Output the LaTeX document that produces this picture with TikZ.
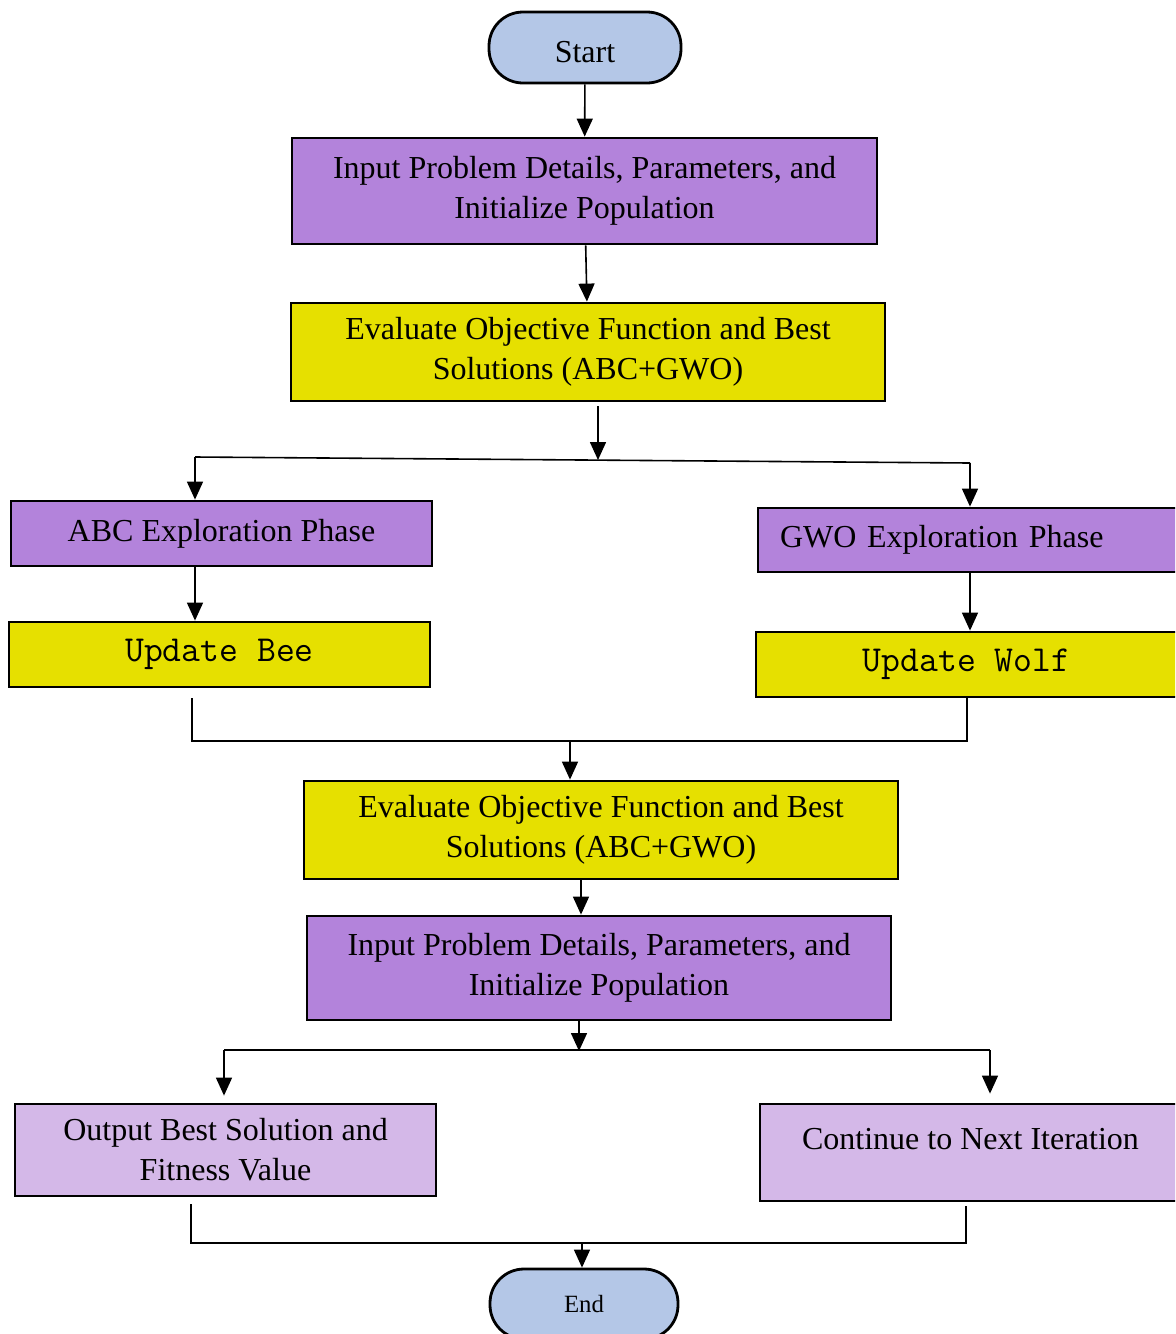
\documentclass[tikz,border=0pt]{standalone}
\usepackage{fontspec}
\setmainfont{Liberation Serif}
\usetikzlibrary{arrows.meta}
\definecolor{termblue}{HTML}{B4C7E7}
\definecolor{phaseviolet}{HTML}{B383DB}
\definecolor{evalyellow}{HTML}{E6E000}
\definecolor{outlilac}{HTML}{D4B8E8}

\begin{document}
\begin{tikzpicture}[x=0.5pt,y=-0.5pt,
  box/.style={draw=black, line width=1.4pt, inner sep=0pt, align=center,
    font=\fontsize{16}{20}\selectfont},
  terminal/.style={box, fill=termblue, rounded corners=17pt},
  phase/.style={box, fill=phaseviolet},
  evalbox/.style={box, fill=evalyellow},
  outbox/.style={box, fill=outlilac},
  codebox/.style={evalbox, font=\ttfamily\fontsize{18.3}{20}\selectfont},
  arrow/.style={-{Triangle[width=8pt,length=9pt]}, line width=0.8pt},
  link/.style={line width=0.8pt}]
\clip (0,0) rectangle (1175,1334);

% terminals and process boxes
\node[terminal, minimum width=96pt, minimum height=35.5pt, text height=15pt] (start) at (585,47.5) {Start};
\node[phase, minimum width=292.5pt, minimum height=53pt] (init) at (584.5,191) {Input Problem Details, Parameters, and\\Initialize Population};
\node[evalbox, minimum width=297pt, minimum height=49pt] (eval) at (588,352) {Evaluate Objective Function and Best\\Solutions (ABC+GWO)};
\node[phase, minimum width=210.5pt, minimum height=32.5pt] (abc) at (221.5,533.5) {ABC Exploration Phase};
\node[phase, text width=188.5pt, inner xsep=11pt, align=left, minimum height=32pt] (gwo) at (968.5,540) {GWO Exploration Phase};
\node[codebox, minimum width=210.5pt, minimum height=32.5pt] (bee) at (219.5,654.5) {Update Bee};
\node[codebox, minimum width=210.5pt, minimum height=32.5pt] (wolf) at (966.5,664.5) {Update Wolf};
\node[evalbox, minimum width=297pt, minimum height=49pt] (evalb) at (601,830) {Evaluate Objective Function and Best\\Solutions (ABC+GWO)};
\node[phase, minimum width=292pt, minimum height=52pt] (initb) at (599,968) {Input Problem Details, Parameters, and\\Initialize Population};
\node[outbox, minimum width=210.5pt, minimum height=46pt] (output) at (225.5,1150) {Output Best Solution and\\Fitness Value};
\node[outbox, minimum width=210.5pt, minimum height=48.5pt, text depth=13.5pt] (next) at (970.5,1152.5) {Continue to Next Iteration};
\node[terminal, minimum width=94pt, minimum height=35pt, font=\fontsize{12.4}{14}\selectfont] (end) at (584,1304) {End};

% junction points
\coordinate (split) at (598,460);
\coordinate (splitL) at (195,457);
\coordinate (splitR) at (970,463);
\coordinate (joinL) at (192,741);
\coordinate (joinR) at (967,741);
\coordinate (joinM) at (570,741);
\coordinate (fork) at (579,1051);
\coordinate (forkL) at (224,1050);
\coordinate (forkR) at (990,1050);
\coordinate (mergeL) at (191,1243);
\coordinate (mergeR) at (966,1243);
\coordinate (mergeM) at (582,1243);

% connectors
\draw[arrow] (start) -- (init);
\draw[arrow] (init) -- (eval);
\draw[arrow] ([yshift=-2pt]eval.south -| split) -- (split);
\draw[link] (splitL) -- (splitR);
\draw[arrow] (splitL) -- (splitL |- abc.north);
\draw[arrow] (splitR) -- (splitR |- gwo.north);
\draw[arrow] (splitL |- abc.south) -- (splitL |- bee.north);
\draw[arrow] (splitR |- gwo.south) -- (splitR |- wolf.north);
\draw[link] ([yshift=-5pt]bee.south -| joinL) -- (joinL) -- (joinR) -- (wolf.south -| joinR);
\draw[arrow] (joinM) -- (joinM |- evalb.north);
\draw[arrow] ([xshift=-10pt]evalb.south) -- ([xshift=-10pt]evalb.south |- initb.north);
\draw[arrow] (initb.south -| fork) -- (fork);
\draw[link] (forkL) -- (forkR);
\draw[arrow] (forkL) -- ([yshift=3.5pt]output.north -| forkL);
\draw[arrow] (forkR) -- ([yshift=4.5pt]next.north -| forkR);
\draw[link] ([yshift=-3.5pt]output.south -| mergeL) -- (mergeL) -- (mergeR) -- ([yshift=-2pt]next.south -| mergeR);
\draw[arrow] (mergeM) -- (mergeM |- end.north);
\end{tikzpicture}
\end{document}
